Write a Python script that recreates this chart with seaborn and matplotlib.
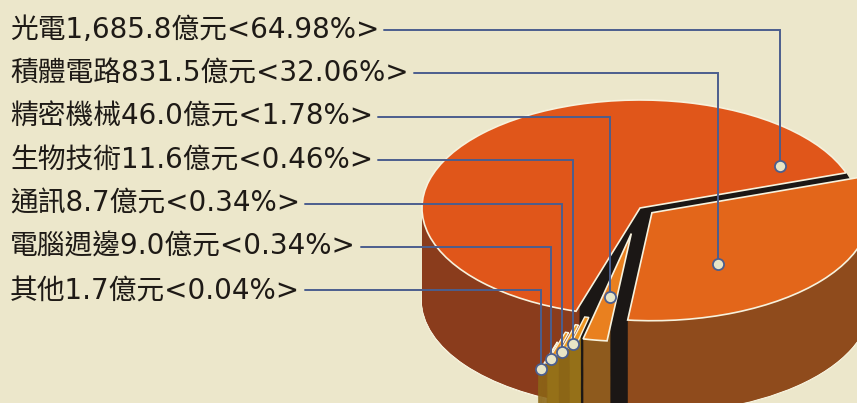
import numpy as np
import matplotlib
matplotlib.use("Agg")
import matplotlib.pyplot as plt
import seaborn as sns

# 園區產業營業額 (億元) and the shares printed on the chart
names = ['光電', '積體電路', '精密機械', '生物技術', '通訊', '電腦週邊', '其他']
values = [1685.8, 831.5, 46.0, 11.6, 8.7, 9.0, 1.7]
pcts = [64.98, 32.06, 1.78, 0.46, 0.34, 0.34, 0.04]

# order of the slices round the pie, counter-clockwise from START
pie_order = [0, 6, 5, 4, 3, 2, 1]

top_colors = ['#E0561A', '#E3661A', '#E9801F', '#EE9520', '#F09E22', '#EE9520', '#F09E22']
side_colors = ['#8A3C1C', '#8F4B1C', '#8E5A1D', '#957018', '#8C6616', '#957018', '#8C6616']
explode = [0.0, 0.07, 0.24, 0.34, 0.42, 0.50, 0.60]
paint_group = [0, 0, 1, 2, 3, 4, 5]          # front-most slices painted last
anchor_frac = [0.053, 0.34, 0.5, 0.5, 0.5, 0.5, 0.5]
anchor_r = [0.75, 0.56, 0.6, 0.96, 0.96, 0.96, 0.96]

BG = '#ECE7CB'
LINE = '#4B5E8E'
EDGE = '#F7F2DD'
BLACK = '#1B1715'
TEXT = '#1E1A16'

START = 19
DEPTH = 0.86
N = 90
W, H = 857, 403
CX, CY, RX, RY = 640, 208, 218, 108   # pie centre / radii in pixels

sns.set_theme(style='white')
plt.rcParams['font.family'] = ['DejaVu Sans', 'Noto Sans CJK TC']

fig = plt.figure(figsize=(W / 100, H / 100), dpi=100, facecolor=BG)
ax = fig.add_axes([0, 0, 1, 1])
ax.set_facecolor(BG)

vals = [values[i] for i in pie_order]
exp = [explode[i] for i in pie_order]


def draw_layer(level, colors, width=None, edge='none', lw=0.0):
    wp = dict(edgecolor=edge, linewidth=lw)
    if width is not None:
        wp['width'] = width
    wedges, _ = ax.pie(vals, explode=exp, colors=colors, startangle=START,
                       counterclock=True, center=(0, level), wedgeprops=wp)
    return wedges


def front_only(w):
    # keep the part of the rim that faces the viewer
    lo, hi = max(w.theta1, 180), min(w.theta2, 360)
    if hi <= lo:
        w.remove()
        return False
    w.set_theta1(lo)
    w.set_theta2(hi)
    return True


levels = np.linspace(-DEPTH, 0, N)
for k, lev in enumerate(levels):
    f = 0.9 * k / N
    bottom = k == 0
    # dark core of the cake, seen through the gaps
    core, _ = ax.pie([1], colors=[BLACK], center=(0, lev),
                     wedgeprops=dict(edgecolor=EDGE if bottom else 'none',
                                     linewidth=1.0 if bottom else 0))
    core[0].set_zorder(-1 + f)
    inner = draw_layer(lev, [BLACK] * 7)
    rim = draw_layer(lev, [side_colors[i] for i in pie_order], width=0.06,
                     edge=EDGE if bottom else 'none', lw=1.0 if bottom else 0)
    face = draw_layer(lev, [side_colors[i] for i in pie_order], width=0.14)
    for j in range(len(vals)):
        g = paint_group[pie_order[j]]
        if g == 0:
            inner[j].set_zorder(f)
            if front_only(rim[j]):
                rim[j].set_zorder(1 + f)
            face[j].remove()
        else:
            inner[j].remove()
            rim[j].remove()
            if front_only(face[j]):
                face[j].set_zorder(g * 10 + f)

# top faces: whole wedges for the larger slices, only the outer tip for the tiny ones
tops = draw_layer(0, [top_colors[i] for i in pie_order], edge=EDGE, lw=1.2)
tips = draw_layer(0, [top_colors[i] for i in pie_order], width=0.3, edge=EDGE, lw=1.0)
top_by_name = {}
for j in range(len(vals)):
    i = pie_order[j]
    if paint_group[i] >= 2:
        tops[j].remove()
        tips[j].set_zorder(80)
        top_by_name[i] = tips[j]
    else:
        tips[j].remove()
        tops[j].set_zorder(80)
        top_by_name[i] = tops[j]

ax.set_aspect('auto')
ax.set_xlim(-CX / RX, (W - CX) / RX)
ax.set_ylim(-(H - CY) / RY, CY / RY)
ax.axis('off')

renderer = fig.canvas.get_renderer()
inv = ax.transData.inverted()
for i, name in enumerate(names):
    label = f'{name}{values[i]:,.1f}億元<{pcts[i]:.2f}%>'
    y_px = H - (30 + 43.4 * i)
    t = fig.text(10 / W, y_px / H, label, ha='left', va='center',
                 fontsize=20, color=TEXT)
    bb = t.get_window_extent(renderer)
    x0, y0 = inv.transform((bb.x1 + 5, y_px))
    w = top_by_name[i]
    th = np.radians(w.theta1 + anchor_frac[i] * (w.theta2 - w.theta1))
    cx, cy = w.center
    px = cx + anchor_r[i] * np.cos(th)
    py = cy + anchor_r[i] * np.sin(th)
    ax.plot([x0, px, px], [y0, y0, py], color=LINE, lw=1.4, zorder=100,
            solid_joinstyle='miter')
    ax.plot([px], [py], marker='o', ms=8, mfc='#E8E5C6', mec=LINE, mew=1.3,
            zorder=101)

fig.savefig('out.png', dpi=100, facecolor=BG)
